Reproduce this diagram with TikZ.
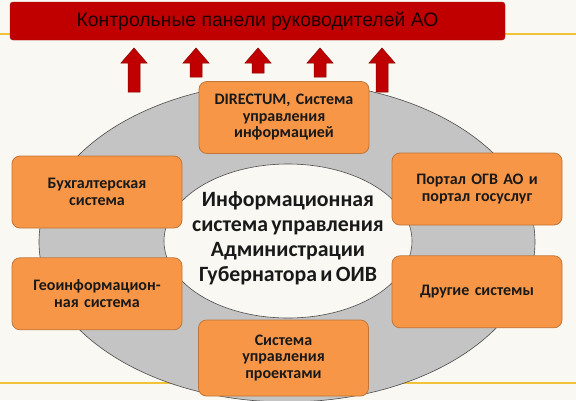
\documentclass[tikz,border=0pt]{standalone}
\usepackage{fontspec}
\setmainfont{Carlito}
\newfontfamily\bannerfont{Liberation Sans}
\usetikzlibrary{positioning}
\usepackage{xcolor}
\definecolor{paper}{HTML}{F9F8F2}
\definecolor{rule}{HTML}{F2C23A}
\definecolor{bannerred}{HTML}{C00000}
\definecolor{banneredge}{HTML}{9A1A1A}
\definecolor{arrowred}{HTML}{C00000}
\definecolor{arrowedge}{HTML}{8C0000}
\definecolor{ringgrey}{HTML}{C4C4C4}
\definecolor{boxfill}{HTML}{F79646}
\definecolor{boxedge}{HTML}{C0763A}
\newcommand\tightsp{\spaceskip=0.15em plus 0.05em\relax}
\tikzstyle{banner} = [rectangle, draw=banneredge, fill=bannerred, rounded corners=3pt,
    minimum width=495pt, minimum height=38pt, inner sep=0pt,
    font=\bannerfont\fontsize{19.4}{22}\selectfont, text=black!90!red]
\tikzstyle{sysbox} = [rectangle, draw=boxedge, fill=boxfill, rounded corners=8pt, line width=0.8pt,
    text width=160pt, align=center, minimum width=170pt, minimum height=72pt, inner sep=0pt,
    font={\bfseries\fontsize{16}{16.5}\selectfont\tightsp}, text=black!90]
\tikzstyle{upar} = [fill=arrowred, draw=arrowedge, line width=0.5pt]

\begin{document}
\begin{tikzpicture}[x=1pt, y=-1pt, node distance = 29pt]
        % Background
        \fill [paper] (0,0) rectangle (576,400);
        \useasboundingbox (0,0) rectangle (576,400);
        \draw [rule, line width=1.5pt] (0,34) -- (576,34);
        \draw [rule, line width=1.5pt] (0,383) -- (576,383);

        % Banner and arrows
        \node [banner] (panel) at (257.5,21) {Контрольные панели руководителей АО};
        \foreach \ax/\ab in {134/92, 196/77, 258/73, 320/77, 382/92}
            \draw [upar] (\ax,48) -- (\ax+13,63) -- (\ax+6,63) -- (\ax+6,\ab)
                -- (\ax-6,\ab) -- (\ax-6,63) -- (\ax-13,63) -- cycle;

        % Ring
        \draw [fill=ringgrey, draw=black!70, line width=0.6pt] (287,242) ellipse [x radius=248pt, y radius=160pt];
        \draw [fill=paper, draw=black!70, line width=0.6pt] (288,241) ellipse [x radius=124pt, y radius=77pt];
        \node [align=center, font={\bfseries\fontsize{21.8}{25}\selectfont\tightsp}, text=black!90] (core) at (288,238)
            {Информационная\\система управления\\Администрации\\Губернатора и ОИВ};

        % Boxes
        \node [sysbox] (directum) at (284,117.5) {DIRECTUM, Система\\управления\\информацией};
        \node [sysbox] (buh) at (97,192) {Бухгалтерская\\система};
        \node [sysbox, below=29pt of buh] (geo) {Геоинформацион-\\ная система};
        \node [sysbox, minimum height=76pt] (projects) at (283.5,358) {Система\\управления\\проектами};
        \node [sysbox] (portal) at (477,189) {Портал ОГВ АО и\\портал госуслуг};
        \node [sysbox, below=30pt of portal] (other) {Другие системы};
    \end{tikzpicture}
\end{document}
